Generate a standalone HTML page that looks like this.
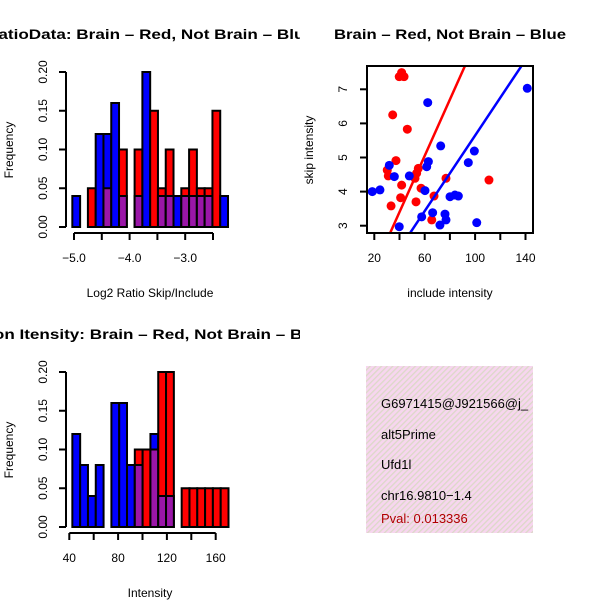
<!DOCTYPE html>
<html><head><meta charset="utf-8"><style>
html,body{margin:0;padding:0;background:#fff;}
svg{display:block;font-family:"Liberation Sans",sans-serif;}
</style></head><body>
<svg id="c" width="600" height="600" viewBox="0 0 600 600">
<defs>
<clipPath id="cl1"><rect x="0" y="0" width="300" height="300"/></clipPath>
<clipPath id="cl3"><rect x="0" y="300" width="300" height="300"/></clipPath>
<clipPath id="cl2"><rect x="367" y="66" width="166" height="167"/></clipPath>
<clipPath id="cl4"><rect x="366" y="366" width="167" height="167"/></clipPath>
<pattern id="hatch" width="4" height="4" patternUnits="userSpaceOnUse" patternTransform="rotate(45)">
<rect width="4" height="4" fill="#f7d6ef"/><rect width="1.3" height="4" fill="#dcd8c8"/></pattern>
</defs>
<g id="p1" clip-path="url(#cl1)"></g>
<g id="p2"></g>
<g id="p3" clip-path="url(#cl3)"></g>
<g id="p4">
<rect x="366" y="366" width="167" height="167" fill="url(#hatch)"/>
<g clip-path="url(#cl4)" font-size="13">
<text x="381" y="408">G6971415@J921566@j_</text>
<text x="381" y="439">alt5Prime</text>
<text x="381" y="469">Ufd1l</text>
<text x="381" y="500">chr16.9810−1.4</text>
<text x="381" y="523" fill="#b00000">Pval: 0.013336</text>
</g></g>
</svg>
<script>
// Ratio histogram data
const ratioBinStart = -5.03, ratioBinW = 0.14;
const ratioBlue = [0.04,0,0,0.12,0.12,0.16,0.04,0,0.04,0.20,0,0.04,0.04,0.04,0.04,0.04,0.04,0.04,0,0.04];
const ratioRed  = [0,0,0.05,0,0.05,0,0.10,0,0.10,0,0.15,0.05,0.10,0,0.05,0.10,0.05,0.05,0.15,0];
const ratioXTicks = [-5.0,-4.5,-4.0,-3.5,-3.0,-2.5];
const ratioXLabels = ["−5.0","","−4.0","","−3.0",""];
const freqTicks = [0,0.05,0.10,0.15,0.20];
const freqLabels = ["0.00","0.05","0.10","0.15","0.20"];
// Intensity histogram data
const intBinStart = 42.5, intBinW = 6.4;
const intBlue = [0.12,0.08,0.04,0.08,0,0.16,0.16,0.08,0.08,0,0.12,0.04,0.04,0,0,0,0,0,0,0];
const intRed  = [0,0,0,0,0,0,0,0,0.10,0.10,0.10,0.20,0.20,0,0.05,0.05,0.05,0.05,0.05,0.05];
const intXTicks = [40,60,80,100,120,140,160];
const intXLabels = ["40","","80","","120","","160"];
// Scatter data
const redX = [41.7,39.8,43.6,41.7,34.6,46.2,37.2,30.3,31.1,54.9,53.6,52.3,76.9,41.7,57.1,40.9,53.1,33.3,67.4,65.6,111];
const redY = [7.49,7.37,7.37,7.39,6.25,5.83,4.91,4.63,4.46,4.68,4.54,4.39,4.39,4.19,4.10,3.82,3.70,3.58,3.87,3.17,4.34];
const blueX = [141.4,62.4,72.7,99.4,94.6,62.9,61.6,35.9,47.8,18.4,24.5,60.2,31.9,80.1,84,86.7,57.6,66.3,76.1,76.9,72.1,39.8,101.3];
const blueY = [7.03,6.61,5.34,5.19,4.85,4.88,4.73,4.44,4.46,4.0,4.05,4.03,4.77,3.85,3.90,3.87,3.26,3.38,3.34,3.17,3.02,2.97,3.09];
const redFit = [0.10,0.0825];
const blueFit = [0.105,0.0554];
const scXTicks = [20,40,60,80,100,120,140];
const scXLabels = ["20","","60","","100","","140"];
const scYTicks = [3,4,5,6,7];
const scYLabels = ["3","4","5","6","7"];

const NS="http://www.w3.org/2000/svg";
function mk(tag,attrs,parent,txt){const e=document.createElementNS(NS,tag);for(const k in attrs)e.setAttribute(k,attrs[k]);if(txt!==undefined)e.textContent=txt;parent.appendChild(e);return e;}

function histPanel(g,oy,x0,px0,pxPerUnit,binStart,binW,blue,red,xt,xl,title,titleLen,xtitle){
  const sx=v=>px0+(v-x0)*pxPerUnit, sy=v=>oy+227-v*775;
  let t=mk('text',{x:150,y:oy+39,'text-anchor':'middle','font-size':'14','font-weight':'bold',textLength:titleLen,lengthAdjust:'spacingAndGlyphs'},g,title);
  
  for(let i=0;i<blue.length;i++){
    const xa=sx(binStart+i*binW), w=sx(binStart+(i+1)*binW)-xa;
    const b=blue[i], r=red[i];
    if(b>0||r>0){
      const big=Math.max(b,r), col=b>=r?'#0000ff':'#ff0000';
      let e=mk('rect',{x:xa,y:sy(big),width:w,height:sy(0)-sy(big),fill:col,stroke:'#000','stroke-width':2},g);
      
      if(b>0&&r>0){const m=Math.min(b,r);
        e=mk('rect',{x:xa,y:sy(m),width:w,height:sy(0)-sy(m),fill:'#9a16a8',stroke:'#000','stroke-width':2},g);
        }
    }
  }
  let ax=mk('g',{stroke:'#000','stroke-width':2,fill:'none'},g);
  
  mk('line',{x1:66,y1:sy(0),x2:66,y2:sy(0.2)},ax);
  freqTicks.forEach((v,i)=>{mk('line',{x1:59,y1:sy(v),x2:66,y2:sy(v)},ax);
    let tt=mk('text',{x:0,y:0,transform:`translate(47,${sy(v)}) rotate(-90)`,'text-anchor':'middle','font-size':'12',fill:'#000',stroke:'none'},g,freqLabels[i]);
    });
  let ax2=mk('g',{stroke:'#000','stroke-width':2,fill:'none'},g);
  
  mk('line',{x1:sx(xt[0]),y1:oy+233,x2:sx(xt[xt.length-1]),y2:oy+233},ax2);
  xt.forEach((v,i)=>{mk('line',{x1:sx(v),y1:oy+233,x2:sx(v),y2:oy+240},ax2);
    if(xl[i]){let tt=mk('text',{x:sx(v),y:oy+262,'text-anchor':'middle','font-size':'12'},g,xl[i]);
    }});
  let yt=mk('text',{x:0,y:0,transform:`translate(13,${oy+150}) rotate(-90)`,'text-anchor':'middle','font-size':'12'},g,'Frequency');
  
  let xtt=mk('text',{x:150,y:oy+297,'text-anchor':'middle','font-size':'12'},g,xtitle);
  
}
histPanel(document.getElementById('p1'),0,-5.0,74,55.6,ratioBinStart,ratioBinW,ratioBlue,ratioRed,ratioXTicks,ratioXLabels,'RatioData: Brain – Red, Not Brain – Blue',328,'Log2 Ratio Skip/Include');
histPanel(document.getElementById('p3'),300,40,69.3,1.22,intBinStart,intBinW,intBlue,intRed,intXTicks,intXLabels,'Exon Itensity: Brain – Red, Not Brain – Blue',354,'Intensity');

// Scatter
(function(){
  const g=document.getElementById('p2');
  const sx=v=>374.3+(v-20)*1.26, sy=v=>225.7-(v-3)*34.1;
  let t=mk('text',{x:450,y:39,'text-anchor':'middle','font-size':'14','font-weight':'bold',textLength:232,lengthAdjust:'spacingAndGlyphs'},g,'Brain – Red, Not Brain – Blue');
  
  const pg=mk('g',{'clip-path':'url(#cl2)'},g);
  redX.forEach((x,i)=>{let c=mk('circle',{cx:sx(x),cy:sy(redY[i]),r:4.5,fill:'#ff0000'},pg);
    });
  blueX.forEach((x,i)=>{let c=mk('circle',{cx:sx(x),cy:sy(blueY[i]),r:4.5,fill:'#0000ff'},pg);
    });
  [[redFit,'#ff0000','fit-line-red'],[blueFit,'#0000ff','fit-line-blue']].forEach(([f,col,nm])=>{
    let l=mk('line',{x1:sx(0),y1:sy(f[0]),x2:sx(200),y2:sy(f[0]+f[1]*200),stroke:col,'stroke-width':2.5},pg);
    });
  let box=mk('rect',{x:367,y:66,width:166,height:167,fill:'none',stroke:'#000','stroke-width':2},g);
  
  let ax=mk('g',{stroke:'#000','stroke-width':2},g);
  
  scXTicks.forEach((v,i)=>{mk('line',{x1:sx(v),y1:233,x2:sx(v),y2:240},ax);
    if(scXLabels[i]){let tt=mk('text',{x:sx(v),y:262,'text-anchor':'middle','font-size':'12'},g,scXLabels[i]);
    }});
  scYTicks.forEach((v,i)=>{mk('line',{x1:360,y1:sy(v),x2:367,y2:sy(v)},ax);
    let tt=mk('text',{x:0,y:0,transform:`translate(347,${sy(v)}) rotate(-90)`,'text-anchor':'middle','font-size':'12'},g,scYLabels[i]);
    });
  let yt=mk('text',{x:0,y:0,transform:'translate(313,150) rotate(-90)','text-anchor':'middle','font-size':'12'},g,'skip intensity');
  
  let xt=mk('text',{x:450,y:297,'text-anchor':'middle','font-size':'12'},g,'include intensity');
  
})();
</script>
</body></html>
